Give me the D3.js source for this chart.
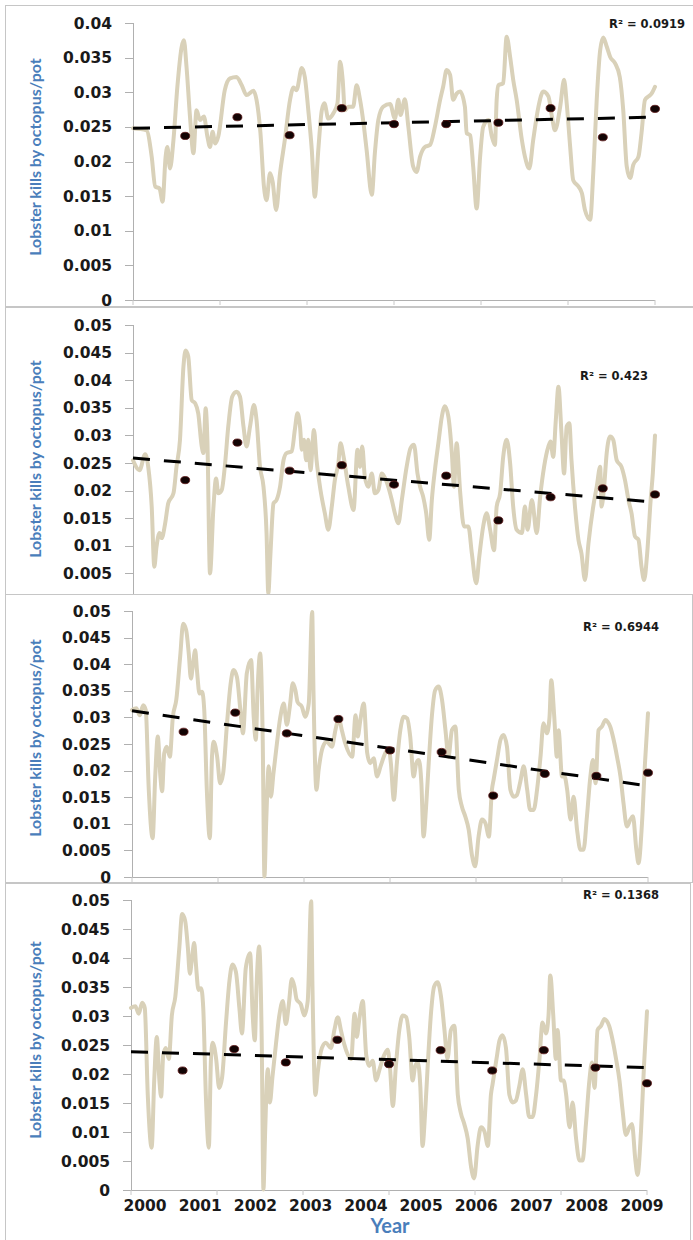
<!DOCTYPE html>
<html>
<head>
<meta charset="utf-8">
<script src="https://cdn.jsdelivr.net/npm/d3@7"></script>
<style>
body { margin: 0; background: #fff; }
svg { display: block; }
.tick-label { font-family: "DejaVu Sans", Verdana, sans-serif; font-weight: bold; font-size: 15.5px; fill: #1a1a1a; }
.r2 { font-family: "DejaVu Sans", Verdana, sans-serif; font-weight: bold; font-size: 11.5px; fill: #1a1a1a; }
.ytitle { font-family: Lato, "Open Sans", sans-serif; font-weight: bold; font-size: 16px; fill: #4a7ebb; }
.xtitle { font-family: Lato, "Open Sans", sans-serif; font-weight: bold; font-size: 20px; fill: #4a7ebb; }
</style>
</head>
<body>
<svg id="chart" width="693" height="1240"></svg>
<script>
var yTicks40 = [0, 0.005, 0.01, 0.015, 0.02, 0.025, 0.03, 0.035, 0.04];
var yTicks50 = [0, 0.005, 0.01, 0.015, 0.02, 0.025, 0.03, 0.035, 0.04, 0.045, 0.05];
var xTickMonths = [0, 20, 40, 60, 80, 100, 120];
var years = ["2000", "2001", "2002", "2003", "2004", "2005", "2006", "2007", "2008", "2009"];
var dotMonths = [12, 24, 36, 48, 60, 72, 84, 96, 108, 120];
var yTitle = "Lobster kills by octopus/pot";

// monthly kill rate, [month, value]
var curve1 = [[0,0.0248],[3.1,0.0245],[4.3,0.0207],[5.1,0.0164],[6.1,0.0161],[6.8,0.0142],[7.5,0.0207],[7.9,0.0221],[8.5,0.0190],[9.3,0.0231],[10.2,0.0308],[11.2,0.0366],[11.7,0.0375],[12.3,0.0337],[13.1,0.0265],[13.9,0.0212],[14.6,0.0274],[15.4,0.0260],[16.3,0.0265],[17.1,0.0236],[17.7,0.0221],[18.3,0.0243],[18.9,0.0226],[19.6,0.0236],[21.1,0.0303],[22.3,0.0320],[23.8,0.0322],[25.0,0.0310],[26.1,0.0296],[27.7,0.0302],[28.4,0.0289],[29.3,0.0241],[30.1,0.0164],[30.7,0.0144],[31.5,0.0183],[32.1,0.0171],[32.9,0.0130],[33.8,0.0183],[34.9,0.0231],[36.1,0.0289],[36.9,0.0307],[37.6,0.0303],[38.8,0.0335],[39.5,0.0322],[40.3,0.0274],[41.1,0.0217],[41.8,0.0149],[42.6,0.0217],[43.4,0.0274],[44.0,0.0284],[44.9,0.0262],[46.1,0.0270],[47.0,0.0284],[47.6,0.0344],[48.2,0.0318],[48.7,0.0274],[49.5,0.0279],[50.6,0.0279],[51.4,0.0310],[52.2,0.0289],[53.0,0.0255],[53.7,0.0217],[54.9,0.0152],[55.6,0.0212],[56.4,0.0260],[57.5,0.0279],[59.1,0.0283],[60.2,0.0262],[61.0,0.0289],[61.5,0.0267],[62.5,0.0290],[63.3,0.0250],[64.4,0.0193],[65.2,0.0185],[66.0,0.0207],[67.1,0.0221],[68.3,0.0224],[69.4,0.0250],[70.6,0.0289],[71.3,0.0308],[72.1,0.0332],[72.9,0.0325],[73.6,0.0289],[74.4,0.0298],[75.2,0.0301],[76.3,0.0279],[76.7,0.0241],[77.5,0.0238],[78.2,0.0193],[79.0,0.0132],[79.8,0.0207],[80.5,0.0250],[81.7,0.0260],[82.5,0.0236],[83.2,0.0224],[83.6,0.0289],[84.0,0.0310],[85.1,0.0313],[85.9,0.0380],[86.7,0.0351],[87.4,0.0318],[88.2,0.0289],[89.4,0.0231],[90.1,0.0207],[91.1,0.0190],[92.0,0.0231],[93.2,0.0279],[94.3,0.0301],[95.5,0.0294],[96.3,0.0265],[97.0,0.0245],[98.2,0.0279],[99.1,0.0318],[99.7,0.0284],[100.5,0.0221],[101.2,0.0173],[102.4,0.0164],[103.2,0.0154],[103.9,0.0130],[105.1,0.0116],[105.8,0.0183],[106.6,0.0289],[107.4,0.0361],[108.1,0.0379],[108.9,0.0366],[109.7,0.0351],[110.8,0.0342],[111.9,0.0322],[112.7,0.0274],[113.5,0.0193],[114.3,0.0176],[115.0,0.0195],[116.2,0.0207],[116.9,0.0241],[117.7,0.0289],[118.5,0.0294],[119.2,0.0298],[120,0.0308]];

var curve2 = [[0,0.0255],[1.5,0.0237],[2.8,0.0266],[3.5,0.0243],[4.3,0.0171],[4.9,0.0062],[5.4,0.0098],[6.1,0.0123],[6.6,0.0114],[7.4,0.0141],[8.1,0.0177],[9.3,0.0195],[10.0,0.0243],[10.8,0.0292],[11.6,0.0425],[12.1,0.0454],[12.7,0.0443],[13.5,0.0364],[14.3,0.0358],[15.0,0.0340],[15.8,0.0280],[16.2,0.0268],[16.7,0.0349],[17.1,0.0292],[17.7,0.0050],[18.5,0.0171],[19.1,0.0222],[19.6,0.0195],[20.4,0.0201],[21.1,0.0243],[21.9,0.0316],[22.8,0.0370],[23.8,0.0379],[24.6,0.0370],[25.4,0.0316],[26.1,0.0280],[26.9,0.0316],[27.8,0.0355],[28.4,0.0328],[29.2,0.0243],[30.0,0.0207],[30.7,0.0123],[31.1,0.0014],[31.6,0.0086],[32.3,0.0177],[33.0,0.0183],[33.8,0.0207],[34.6,0.0255],[35.3,0.0268],[36.5,0.0271],[37.2,0.0310],[37.8,0.0340],[38.4,0.0316],[38.8,0.0274],[39.3,0.0292],[39.8,0.0255],[40.3,0.0292],[40.8,0.0237],[41.6,0.0310],[42.2,0.0255],[43.1,0.0201],[44.1,0.0159],[44.9,0.0129],[45.7,0.0171],[46.4,0.0219],[47.2,0.0249],[47.7,0.0286],[48.4,0.0262],[49.5,0.0207],[50.7,0.0165],[51.6,0.0274],[52.2,0.0243],[52.7,0.0280],[53.3,0.0225],[54.1,0.0207],[54.9,0.0231],[55.6,0.0195],[56.4,0.0201],[57.2,0.0231],[58.3,0.0216],[59.5,0.0183],[60.2,0.0159],[61.0,0.0141],[61.8,0.0183],[62.9,0.0243],[63.8,0.0277],[64.6,0.0283],[65.4,0.0231],[66.0,0.0207],[66.7,0.0189],[67.4,0.0159],[68.1,0.0111],[68.7,0.0183],[69.4,0.0237],[70.2,0.0286],[71.0,0.0334],[71.7,0.0353],[72.5,0.0334],[73.3,0.0268],[73.8,0.0207],[74.4,0.0286],[75.2,0.0198],[76.1,0.0135],[77.1,0.0135],[77.9,0.0086],[78.9,0.0032],[79.6,0.0080],[80.5,0.0135],[81.3,0.0159],[82.1,0.0129],[83.0,0.0092],[83.6,0.0171],[84.4,0.0195],[85.1,0.0261],[85.9,0.0292],[86.7,0.0249],[87.4,0.0171],[88.2,0.0129],[89.4,0.0123],[90.1,0.0171],[90.7,0.0129],[91.7,0.0183],[92.8,0.0123],[93.6,0.0189],[94.5,0.0243],[95.5,0.0280],[96.0,0.0289],[96.6,0.0261],[97.2,0.0328],[97.8,0.0388],[98.5,0.0304],[99.1,0.0231],[99.7,0.0316],[100.3,0.0322],[100.8,0.0255],[101.6,0.0171],[102.4,0.0111],[103.1,0.0086],[103.9,0.0038],[104.7,0.0104],[105.8,0.0171],[106.6,0.0207],[107.4,0.0243],[107.7,0.0171],[108.3,0.0207],[108.9,0.0268],[109.7,0.0298],[110.4,0.0292],[111.2,0.0255],[112.3,0.0243],[113.1,0.0219],[113.9,0.0183],[114.6,0.0159],[115.4,0.0117],[116.2,0.0111],[116.9,0.0062],[117.5,0.0038],[118.2,0.0086],[119.0,0.0183],[119.5,0.0231],[120,0.0300]];

// panels 3 and 4 show the same monthly series
var curve3 = [[0,0.0314],[1.0,0.0317],[1.8,0.0304],[2.6,0.0323],[3.2,0.0314],[3.9,0.0164],[4.8,0.0073],[5.4,0.0189],[6.0,0.0264],[6.6,0.0189],[7.0,0.0161],[7.5,0.0233],[8.1,0.0245],[8.8,0.0226],[9.5,0.0301],[10.3,0.0333],[11.2,0.0414],[11.9,0.0476],[12.6,0.0464],[13.2,0.0420],[13.7,0.0373],[14.2,0.0401],[14.7,0.0426],[15.1,0.0389],[15.7,0.0345],[16.3,0.0348],[16.8,0.0314],[17.4,0.0164],[18.1,0.0073],[18.6,0.0226],[19.0,0.0254],[19.8,0.0226],[20.5,0.0176],[21.2,0.0195],[22.1,0.0289],[22.9,0.0361],[23.6,0.0389],[24.4,0.0376],[25.2,0.0314],[25.8,0.0270],[26.7,0.0383],[27.7,0.0408],[28.3,0.0301],[28.8,0.0258],[29.2,0.0351],[29.8,0.0420],[30.4,0.0258],[30.8,0.0001],[31.2,0.0101],[31.8,0.0208],[32.3,0.0151],[32.9,0.0195],[33.7,0.0251],[34.5,0.0301],[35.3,0.0326],[36.0,0.0286],[36.7,0.0320],[37.4,0.0364],[38.0,0.0351],[38.5,0.0329],[39.5,0.0320],[40.3,0.0301],[41.1,0.0326],[41.9,0.0498],[42.2,0.0351],[42.9,0.0164],[43.4,0.0201],[44.4,0.0245],[45.3,0.0254],[46.5,0.0245],[47.3,0.0276],[48.1,0.0298],[48.8,0.0276],[49.6,0.0251],[51.2,0.0226],[52.0,0.0304],[52.5,0.0264],[53.1,0.0295],[53.9,0.0326],[54.7,0.0233],[55.4,0.0214],[56.2,0.0223],[57.0,0.0189],[57.8,0.0208],[58.9,0.0233],[59.7,0.0242],[60.2,0.0214],[60.9,0.0145],[61.6,0.0214],[62.4,0.0276],[63.2,0.0301],[64.0,0.0298],[64.7,0.0264],[65.5,0.0189],[66.1,0.0214],[66.7,0.0220],[67.3,0.0176],[67.8,0.0076],[68.4,0.0133],[69.0,0.0214],[69.8,0.0308],[70.5,0.0351],[71.3,0.0358],[72.1,0.0333],[72.9,0.0276],[73.6,0.0226],[74.4,0.0276],[75.2,0.0283],[76.0,0.0164],[76.7,0.0133],[77.5,0.0114],[78.3,0.0089],[79.1,0.0039],[79.8,0.0020],[80.6,0.0076],[81.4,0.0108],[82.2,0.0101],[83.0,0.0076],[83.7,0.0164],[84.1,0.0183],[85.0,0.0226],[85.7,0.0258],[86.4,0.0267],[87.2,0.0245],[88.0,0.0164],[88.8,0.0151],[89.5,0.0154],[90.3,0.0179],[91.1,0.0208],[91.9,0.0164],[92.6,0.0126],[93.4,0.0126],[94.2,0.0164],[95.0,0.0226],[95.7,0.0289],[96.5,0.0270],[97.1,0.0301],[97.5,0.0370],[98.2,0.0301],[98.8,0.0226],[99.2,0.0276],[100.0,0.0189],[100.6,0.0189],[101.2,0.0164],[102.0,0.0108],[102.7,0.0151],[103.5,0.0089],[104.3,0.0051],[105.0,0.0051],[105.8,0.0114],[106.6,0.0189],[107.2,0.0220],[107.8,0.0176],[108.5,0.0276],[109.3,0.0283],[110.1,0.0295],[110.6,0.0292],[111.2,0.0283],[112.2,0.0251],[112.8,0.0226],[113.6,0.0189],[114.3,0.0139],[115.1,0.0095],[115.9,0.0108],[116.5,0.0114],[117.3,0.0051],[117.8,0.0026],[118.6,0.0101],[119.3,0.0214],[120,0.0308]];

// annual values (one per year end)
var dots1 = [0.0237, 0.0264, 0.0238, 0.0277, 0.0254, 0.0254, 0.0256, 0.0277, 0.0235, 0.0276];
var dots2 = [0.0219, 0.0287, 0.0236, 0.0246, 0.0211, 0.0227, 0.0146, 0.0188, 0.0204, 0.0193];
var dots3 = [0.0273, 0.0309, 0.0270, 0.0297, 0.0238, 0.0235, 0.0153, 0.0194, 0.0190, 0.0196];
var dots4 = [0.0206, 0.0243, 0.0220, 0.0259, 0.0217, 0.0241, 0.0206, 0.0241, 0.0211, 0.0184];

// linear trend, value at start and end
var trend1 = [0.0248, 0.0264];
var trend2 = [0.0259, 0.0179];
var trend3 = [0.03125, 0.0171];
var trend4 = [0.02385, 0.0211];

var r2Labels = ["R\u00b2 = 0.0919", "R\u00b2 = 0.423", "R\u00b2 = 0.6944", "R\u00b2 = 0.1368"];

var panels = [
	{ frame: [5, 5, 700, 301], left: 133, right: 655, bottom: 300, top: 23, max: 0.04, ticks: yTicks40, curve: curve1, dots: dots1, trend: trend1, r2: [685, 28], titleY: 157 },
	{ frame: [5, 307, 700, 300], left: 133, right: 655, bottom: 601, top: 325, max: 0.05, ticks: yTicks50, curve: curve2, dots: dots2, trend: trend2, r2: [648, 380], titleY: 459 },
	{ frame: [5, 594, 687, 288], left: 132, right: 648, bottom: 877, top: 611, max: 0.05, ticks: yTicks50, curve: curve3, dots: dots3, trend: trend3, r2: [659, 631], titleY: 738 },
	{ frame: [5, 883, 685, 400], left: 131, right: 647, bottom: 1190, top: 900, max: 0.05, ticks: yTicks50, curve: curve3, dots: dots4, trend: trend4, r2: [659, 899], titleY: 1040 }
];

var svg = d3.select("#chart");
var fmt = d3.format(".3~f");

panels.forEach( (p, i) => {
	var g = svg.append("g");
	g.append("rect").attr("x", p.frame[0] + 0.5).attr("y", p.frame[1] + 0.5).attr("width", p.frame[2]).attr("height", p.frame[3])
		.attr("fill", "#fff").attr("stroke", "#c6c6c6");

	var x = d3.scaleLinear().domain([0, 120]).range([p.left, p.right]);
	var y = d3.scaleLinear().domain([0, p.max]).range([p.bottom, p.top]);
	// the next panel sits over the lower edge of panel 2, so its "0" label is never seen
	var next = panels[i + 1];
	var shown = p.ticks.filter(d => !next || y(d) < next.frame[1] - 3);

	// axes
	g.append("line").attr("x1", p.left + 0.5).attr("x2", p.left + 0.5).attr("y1", y(0)).attr("y2", y(p.max)).attr("stroke", "#b0b0b0");
	g.append("line").attr("x1", p.left - 8).attr("x2", p.right).attr("y1", y(0) + 0.5).attr("y2", y(0) + 0.5).attr("stroke", "#b0b0b0");
	g.selectAll("line.ytick").data(p.ticks).enter().append("line").attr("class", "ytick")
		.attr("x1", p.left - 8).attr("x2", p.left).attr("y1", d => Math.round(y(d)) + 0.5).attr("y2", d => Math.round(y(d)) + 0.5).attr("stroke", "#b0b0b0");
	g.selectAll("line.xtick").data(xTickMonths).enter().append("line").attr("class", "xtick")
		.attr("x1", d => x(d)).attr("x2", d => x(d)).attr("y1", y(0)).attr("y2", y(0) + 5).attr("stroke", "#c8c8c8");
	g.selectAll("text.tick-label").data(shown).enter().append("text").attr("class", "tick-label")
		.attr("x", p.left - 21).attr("y", d => y(d)).attr("dy", "0.36em").attr("text-anchor", "end").text(d => fmt(d));

	g.append("text").attr("class", "ytitle").attr("text-anchor", "middle")
		.attr("transform", "translate(" + 41 + "," + p.titleY + ") rotate(-90)").text(yTitle);

	// monthly series
	var line = d3.line().x(d => x(d[0])).y(d => y(d[1])).curve(d3.curveMonotoneX);
	g.append("path").attr("d", line(p.curve)).attr("fill", "none").attr("stroke", "#d9d1b9").attr("stroke-width", 4)
		.attr("stroke-linejoin", "round").attr("stroke-linecap", "round");

	// trend
	g.append("line").attr("x1", x(0)).attr("x2", x(120)).attr("y1", y(p.trend[0])).attr("y2", y(p.trend[1]))
		.attr("stroke", "#000").attr("stroke-width", 3).attr("stroke-dasharray", "17,14");

	// annual points
	g.selectAll("ellipse").data(p.dots).enter().append("ellipse")
		.attr("cx", (d, j) => x(dotMonths[j])).attr("cy", d => y(d)).attr("rx", 4.5).attr("ry", 3.6)
		.attr("fill", "#120404").attr("stroke", "#5a1414").attr("stroke-width", 0.8);

	g.append("text").attr("class", "r2").attr("x", p.r2[0]).attr("y", p.r2[1]).attr("text-anchor", "end").text(r2Labels[i]);
});

// year labels under the last panel
var yr = d3.scalePoint().domain(years).range([145, 642]);
svg.selectAll("text.year").data(years).enter().append("text").attr("class", "tick-label year")
	.attr("x", d => yr(d)).attr("y", 1211).attr("text-anchor", "middle").text(d => d);
svg.append("text").attr("class", "xtitle").attr("x", 390).attr("y", 1233).attr("text-anchor", "middle").text("Year");
</script>
</body>
</html>
